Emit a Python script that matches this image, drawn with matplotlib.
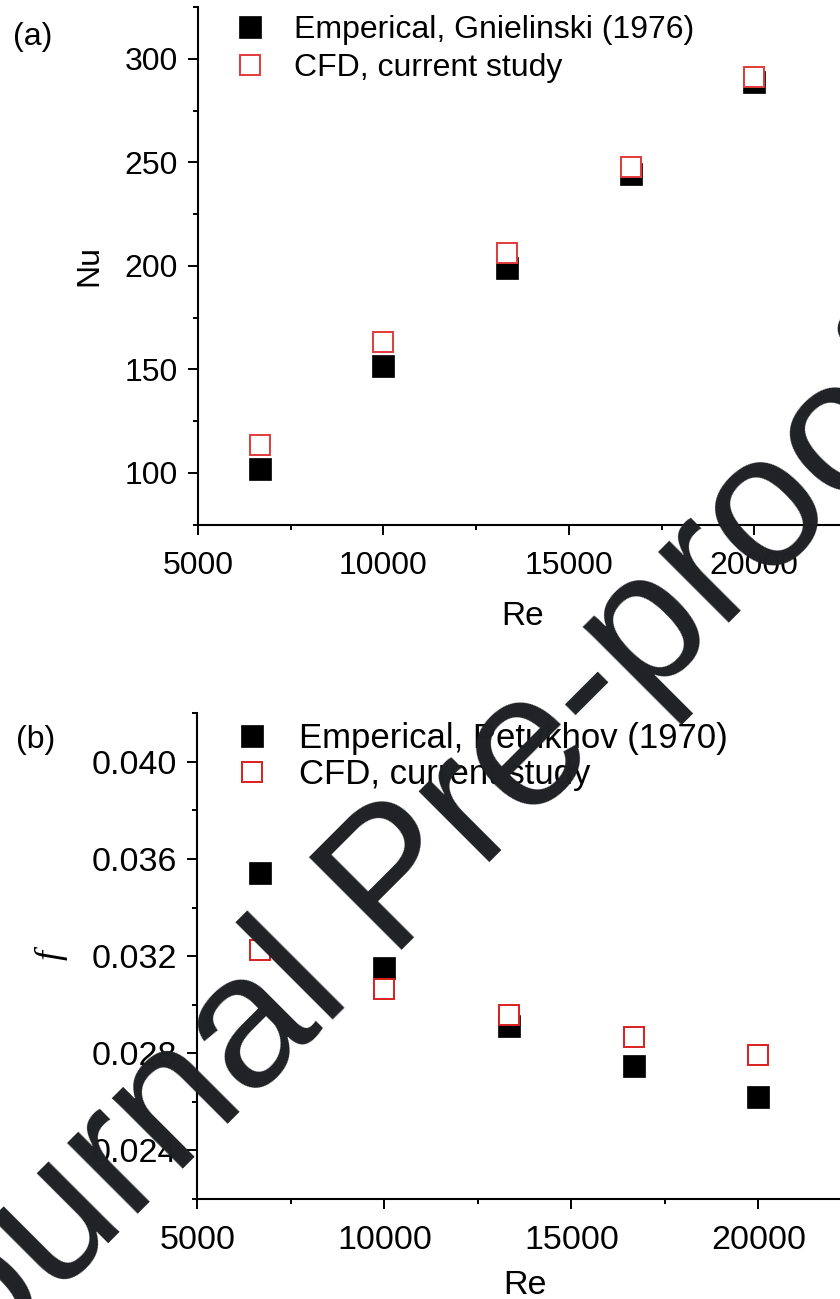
import matplotlib
matplotlib.use("Agg")
import matplotlib.pyplot as plt
from matplotlib.ticker import MultipleLocator

# Reynolds numbers of the simulated cases
re_values = [6667, 10000, 13333, 16667, 20000]

# Nusselt number: Gnielinski correlation vs. CFD
nu_gnielinski = [101.9, 151.7, 198.8, 244.2, 288.9]
nu_cfd = [113.5, 163.0, 206.1, 247.5, 291.2]

# Friction factor: Petukhov correlation vs. CFD
f_petukhov = [0.03541, 0.03151, 0.02912, 0.02747, 0.02622]
f_cfd = [0.03226, 0.03063, 0.02958, 0.02869, 0.02794]

x_ticks = [5000, 10000, 15000, 20000]
nu_ticks = [100, 150, 200, 250, 300]
f_ticks = [0.024, 0.028, 0.032, 0.036, 0.040]

plt.rcParams["font.family"] = ["Liberation Sans", "DejaVu Sans"]

RED_A = "#e23a3a"
RED_B = "#da1f1f"
W, H = 840, 1299

fig = plt.figure(figsize=(W / 100, H / 100), dpi=100)
fig.patch.set_facecolor("white")

ax1 = fig.add_axes([0.2357, 0.59604, 0.8829, 0.39858])
ax2 = fig.add_axes([0.2349, 0.07698, 0.8905, 0.3739])


def style_axes(ax, tick_fs, xpad, ypad):
    for side in ("top", "right"):
        ax.spines[side].set_visible(False)
    for side in ("left", "bottom"):
        ax.spines[side].set_linewidth(1.5)
    ax.tick_params(which="major", direction="out", length=7.2, width=1.4,
                   labelsize=tick_fs)
    ax.tick_params(which="minor", direction="out", length=3.6, width=1.4)
    ax.tick_params(axis="x", pad=xpad)
    ax.tick_params(axis="y", pad=ypad)
    ax.set_xlim(5000, 25000)
    ax.set_xticks(x_ticks)
    ax.xaxis.set_minor_locator(MultipleLocator(2500))


# ---- (a) Nusselt number ----
ax1.plot(re_values, nu_gnielinski, linestyle="none", marker="s", ms=15.5,
         mfc="black", mec="black", mew=0.5,
         label="Emperical, Gnielinski (1976)", zorder=3)
ax1.plot(re_values, nu_cfd, linestyle="none", marker="s", ms=14.5,
         mfc="white", mec=RED_A, mew=1.4,
         label="CFD, current study", zorder=4)
style_axes(ax1, 23, 12, 7.5)
ax1.set_ylim(75, 325)
ax1.set_yticks(nu_ticks)
ax1.yaxis.set_minor_locator(MultipleLocator(25))
ax1.set_xlabel("Re", fontsize=24)
ax1.xaxis.set_label_coords(0.4376, -0.148)
ax1.set_ylabel("Nu", fontsize=23)
ax1.yaxis.set_label_coords(-0.1268, 0.50)
ax1.legend(loc="upper left", bbox_to_anchor=(0.054, 0.9845), frameon=False,
           fontsize=23, borderpad=0, borderaxespad=0, handlelength=0.75,
           handletextpad=1.0, labelspacing=0.25)

# ---- (b) friction factor ----
ax2.plot(re_values, f_petukhov, linestyle="none", marker="s", ms=15.5,
         mfc="black", mec="black", mew=0.5,
         label="Emperical, Petukhov (1970)", zorder=3)
ax2.plot(re_values, f_cfd, linestyle="none", marker="s", ms=14.5,
         mfc="white", mec=RED_B, mew=1.4,
         label="CFD, current study", zorder=4)
style_axes(ax2, 24.5, 11.5, 7.2)
ax2.set_ylim(0.022, 0.042)
ax2.set_yticks(f_ticks)
ax2.set_yticklabels([f"{v:.3f}" for v in f_ticks])
ax2.yaxis.set_minor_locator(MultipleLocator(0.002))
ax2.set_xlabel("Re", fontsize=24.5)
ax2.xaxis.set_label_coords(0.438, -0.146)
ax2.set_ylabel("f", fontsize=26, family="Liberation Serif", style="italic")
ax2.yaxis.set_label_coords(-0.174, 0.502)
ax2.legend(loc="upper left", bbox_to_anchor=(0.057, 0.9824), frameon=False,
           fontsize=25, borderpad=0, borderaxespad=0, handlelength=0.7,
           handletextpad=1.0, labelspacing=0.095)

# panel letters
fig.text(33 / W, 1 - 37 / H, "(a)", fontsize=23, ha="center", va="center")
fig.text(36 / W, 1 - 740 / H, "(b)", fontsize=23, ha="center", va="center")

# diagonal watermark across the page
fig.text(-88 / W, 1 - 1439 / H, "Journal Pre-proof", fontsize=137,
         color="#202124", rotation=45, rotation_mode="anchor",
         ha="left", va="baseline", zorder=10)

fig.savefig("out.png", dpi=100, facecolor="white")
